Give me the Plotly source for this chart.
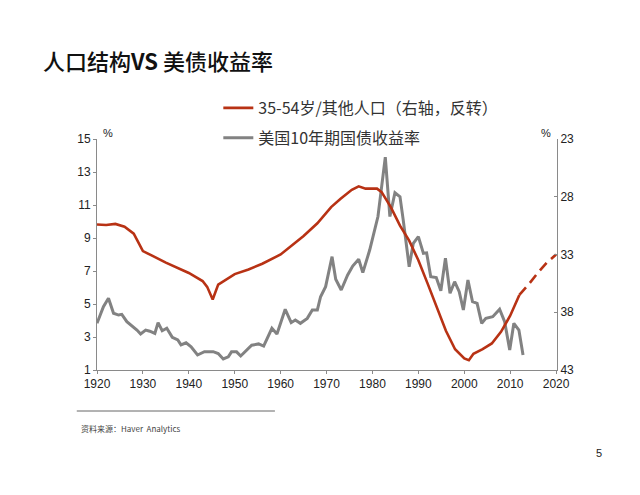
import plotly.graph_objects as go

# ---- data ----
bond_years = [1920, 1921.4, 1922.5, 1923.6, 1924.7, 1925.4, 1926.5, 1928, 1928.7, 1929.5,
              1930.6, 1931.5, 1932.6, 1933.3, 1934.2, 1935.2, 1936.4, 1937.6, 1938.3, 1939.4,
              1940.5, 1941.9, 1943.4, 1945.3, 1946.4, 1947.5, 1948.6, 1949.3, 1950.4, 1951.3,
              1952.6, 1953.7, 1955.2, 1956.3, 1958.1, 1959.2, 1961, 1962.3, 1963.2, 1964.3,
              1965.8, 1966.9, 1968, 1968.7, 1969.8, 1971.2, 1972, 1973.2, 1974.6, 1975.7,
              1977, 1977.9, 1979.4, 1981.2, 1982.8, 1983.8, 1984.9, 1986, 1986.7, 1988,
              1988.9, 1990, 1991.1, 1991.8, 1992.7, 1993.9, 1994.9, 1995.9, 1996.9, 1997.9,
              1998.9, 1999.8, 2000.8, 2001.8, 2002.8, 2003.8, 2004.7, 2006.2, 2007.7, 2008.8,
              2009.9, 2010.8, 2011.9, 2012.8]
bond_yield = [3.83, 4.84, 5.35, 4.44, 4.33, 4.37, 3.93, 3.62, 3.42, 3.18,
              3.42, 3.35, 3.22, 3.87, 3.38, 3.53, 2.98, 2.82, 2.52, 2.65,
              2.41, 1.91, 2.11, 2.11, 2.0, 1.67, 1.8, 2.1, 2.1, 1.85,
              2.2, 2.5, 2.58, 2.45, 3.53, 3.18, 4.68, 3.87, 4.03, 3.83,
              4.13, 4.64, 4.64, 5.44, 6.05, 7.87, 6.5, 5.85, 6.76, 7.3,
              7.71, 6.9, 8.27, 10.3, 13.9, 10.3, 11.75, 11.5, 10.1, 7.26,
              8.68, 9.08, 8.07, 8.1, 6.65, 6.6, 5.8, 7.77, 5.65, 6.35,
              5.75, 4.64, 6.45, 5.14, 5.04, 3.83, 4.13, 4.23, 4.68, 3.93,
              2.21, 3.83, 3.42, 1.91]

pop_years = [1920, 1922, 1924, 1926, 1928, 1930, 1932, 1935, 1940, 1943,
             1944, 1945.2, 1946.4, 1948, 1950, 1953, 1956, 1960, 1963, 1965,
             1968, 1971, 1973, 1975.5, 1977, 1978.5, 1981, 1982, 1984, 1986,
             1988, 1990, 1992, 1994, 1996, 1998, 2000, 2001, 2002, 2004,
             2006, 2008, 2010, 2012]
pop_ratio = [30.4, 30.45, 30.35, 30.6, 31.2, 32.7, 33.1, 33.7, 34.6, 35.3,
             35.8, 36.9, 35.6, 35.2, 34.7, 34.3, 33.8, 33.0, 32.0, 31.4,
             30.3, 28.9, 28.2, 27.4, 27.1, 27.3, 27.3, 27.6, 28.9, 30.5,
             31.8, 33.5, 35.5, 37.6, 39.6, 41.2, 42.0, 42.15, 41.6, 41.2,
             40.7, 39.7, 38.3, 36.5]
proj_years = [2012, 2014, 2016, 2018, 2020]
proj_ratio = [36.5, 35.6, 34.6, 33.7, 33.0]

x_ticks = [1920, 1930, 1940, 1950, 1960, 1970, 1980, 1990, 2000, 2010, 2020]
left_ticks = [1, 3, 5, 7, 9, 11, 13, 15]
right_ticks = [23, 28, 33, 38, 43]

RED = "#B83214"
GRAY = "#828282"
CJK = "Noto Sans CJK SC"

fig = go.Figure()
fig.add_trace(go.Scatter(x=bond_years, y=bond_yield, mode="lines",
                         line=dict(color=GRAY, width=3), name="美国10年期国债收益率",
                         legendgroup="b", legendrank=2))
fig.add_trace(go.Scatter(x=pop_years, y=pop_ratio, mode="lines", yaxis="y2",
                         line=dict(color=RED, width=2.6), name="35-54岁/其他人口（右轴，反转）",
                         legendgroup="a", legendrank=1))
fig.add_trace(go.Scatter(x=proj_years, y=proj_ratio, mode="lines", yaxis="y2",
                         line=dict(color=RED, width=2.6, dash="10px,6px"),
                         showlegend=False))

axis_common = dict(showgrid=False, zeroline=False, showline=True, linecolor="#8a8a8a",
                   linewidth=1, tickfont=dict(family="Liberation Sans", size=12, color="#222"),
                   ticklen=3, tickcolor="#8a8a8a")

fig.update_layout(
    width=640, height=495,
    margin=dict(l=89, r=91, t=131, b=133, pad=0),
    paper_bgcolor="white", plot_bgcolor="white",
    xaxis=dict(range=[1920, 2020.2], tickvals=x_ticks, ticks="outside", **axis_common),
    yaxis=dict(range=[1, 15], tickvals=left_ticks, ticks="outside", **axis_common),
    yaxis2=dict(range=[43, 23], tickvals=right_ticks, overlaying="y", side="right",
                ticks="inside", **axis_common),
    showlegend=True,
    legend=dict(x=(217 - 97) / 455, y=(370 - 91) / 231, xanchor="left", yanchor="top",
                traceorder="grouped", tracegroupgap=6, itemwidth=30,
                font=dict(family=CJK, size=16, color="#333"), bgcolor="rgba(0,0,0,0)"),
    annotations=[
        dict(text="人口结构<b>VS</b> 美债收益率", x=(42 - 97) / 455, y=(370 - 60) / 231,
             xref="paper", yref="paper", xanchor="left", yanchor="middle", showarrow=False,
             font=dict(family=CJK, size=22, color="#111", weight=500)),
        dict(text="%", x=(101 - 97) / 455, y=(370 - 125) / 231, xref="paper", yref="paper",
             showarrow=False, font=dict(family="Liberation Sans", size=11, color="#222")),
        dict(text="%", x=(548 - 97) / 455, y=(370 - 125) / 231, xref="paper", yref="paper",
             showarrow=False, font=dict(family="Liberation Sans", size=11, color="#222")),
        dict(text="资料来源：Haver  Analytics", x=(79 - 97) / 455, y=(370 - 428) / 231,
             xref="paper", yref="paper", xanchor="left", yanchor="middle", showarrow=False,
             font=dict(family=CJK, size=8, color="#444")),
        dict(text="5", x=(598 - 97) / 455, y=(370 - 461) / 231, xref="paper", yref="paper",
             showarrow=False, font=dict(family="Liberation Sans", size=11, color="#222")),
    ],
    shapes=[
        dict(type="line", xref="paper", yref="paper", x0=(77 - 97) / 455, x1=(273 - 97) / 455,
             y0=(370 - 411) / 231, y1=(370 - 411) / 231, line=dict(color="#666", width=1)),
    ],
)

fig.write_html("out.html")
